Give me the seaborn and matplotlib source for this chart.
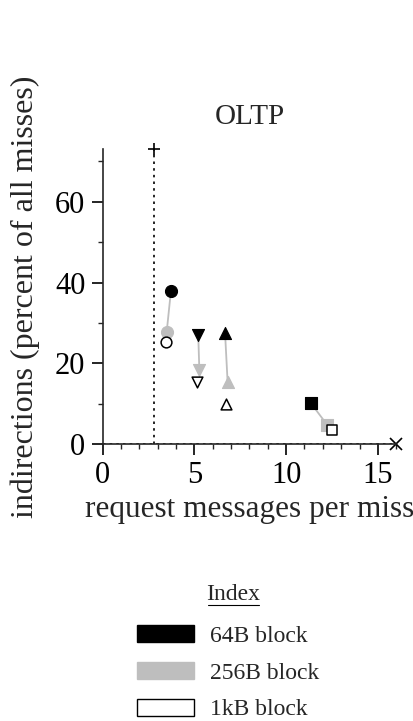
import matplotlib
matplotlib.use("Agg")
import matplotlib.pyplot as plt
from matplotlib.patches import Patch
from matplotlib.ticker import MultipleLocator
import seaborn as sns
import pandas as pd

# ---- data ----
markers = ["o", "v", "^", "s"]
x64 = [3.72, 5.21, 6.67, 11.34]
y64 = [37.9, 27.0, 27.6, 10.2]
x256 = [3.49, 5.27, 6.81, 12.25]
y256 = [27.8, 18.3, 15.4, 4.7]
x1k = [3.43, 5.16, 6.70, 12.50]
y1k = [25.2, 15.4, 9.9, 3.5]
base_x = [2.8, 2.8]
base_y = [0, 73]
cross_x = [0, 16]
cross_y = [0, 0]
legend_labels = ["64B block", "256B block", "1kB block"]
title = "OLTP"
xlabel = "request messages per miss"
ylabel = "indirections (percent of all misses)"

sns.set_style("ticks")
plt.rcParams["font.family"] = ["Liberation Serif", "DejaVu Serif"]

GRAY = "#bebebe"
fig = plt.figure(figsize=(4.14, 7.21), dpi=100)
ax = fig.add_axes([0.248, 0.384, 0.709, 0.409])

# connecting lines 64B -> 256B
pairs = []
for i in range(len(markers)):
    pairs.append({"g": i, "x": x64[i], "y": y64[i]})
    pairs.append({"g": i, "x": x256[i], "y": y256[i]})
dfp = pd.DataFrame(pairs)
sns.lineplot(data=dfp, x="x", y="y", units="g", estimator=None, sort=False,
             color=GRAY, lw=1.3, ax=ax, legend=False)

# baseline dotted lines
sns.lineplot(x=base_x, y=base_y, color="black", ls=(0, (1.5, 2.5)), lw=1.2,
             ax=ax, legend=False, estimator=None, sort=False)
ax.plot([base_x[1]], [base_y[1]], marker="+", color="black", ms=9, mew=1.2,
        clip_on=False)
sns.lineplot(x=cross_x, y=cross_y, color="black", ls=(0, (1.5, 2.5)), lw=1.2,
             ax=ax, legend=False, estimator=None, sort=False)
ax.plot([cross_x[1]], [cross_y[1]], marker="x", color="black", ms=8, mew=1.2,
        clip_on=False)

for i, m in enumerate(markers):
    sns.scatterplot(x=[x64[i]], y=[y64[i]], marker=m, s=75, color="black",
                    edgecolor="black", linewidth=0.8, ax=ax, zorder=4, legend=False)
    sns.scatterplot(x=[x256[i]], y=[y256[i]], marker=m, s=75, color=GRAY,
                    edgecolor=GRAY, linewidth=0.8, ax=ax, zorder=4, legend=False)
    sns.scatterplot(x=[x1k[i]], y=[y1k[i]], marker=m, s=60, color="white",
                    edgecolor="black", linewidth=1.1, ax=ax, zorder=4, legend=False)

ax.set_xlim(0, 16)
ax.set_ylim(0, 73)
ax.spines["top"].set_visible(False)
ax.spines["right"].set_visible(False)
ax.spines["left"].set_linewidth(1.2)
ax.spines["bottom"].set_linewidth(1.2)
ax.set_xticks([0, 5, 10, 15])
ax.set_yticks([0, 20, 40, 60])
ax.xaxis.set_minor_locator(MultipleLocator(1))
ax.yaxis.set_minor_locator(MultipleLocator(10))
ax.tick_params(which="major", direction="out", length=8, width=1.2,
               labelsize=22, pad=4.5, colors="black")
ax.tick_params(which="minor", direction="out", length=3.5, width=1.0)

ax.set_title(title, fontsize=21, pad=18)
ax.set_xlabel(xlabel, fontsize=22.5)
ax.set_ylabel(ylabel, fontsize=23)
ax.xaxis.set_label_coords(0.5, -0.172)
ax.yaxis.set_label_coords(-0.215, 0.5)

# legend
handles = [Patch(facecolor="black", edgecolor="black"),
           Patch(facecolor=GRAY, edgecolor=GRAY),
           Patch(facecolor="white", edgecolor="black", linewidth=1.0)]
leg = fig.legend(handles, legend_labels, loc="upper left",
                 bbox_to_anchor=(137 / 414, 1 - 625 / 721), frameon=False,
                 fontsize=17, handlelength=2.4, handleheight=0.75,
                 handletextpad=0.7, labelspacing=0.63, borderpad=0,
                 borderaxespad=0)
fig.text(233 / 414, 1 - 594 / 721, "Index", fontsize=17, ha="center",
         va="center")
fig.add_artist(plt.Line2D([208 / 414, 259 / 414], [1 - 605 / 721, 1 - 605 / 721],
                          color="black", lw=0.8))

fig.savefig("out.png", dpi=100)
